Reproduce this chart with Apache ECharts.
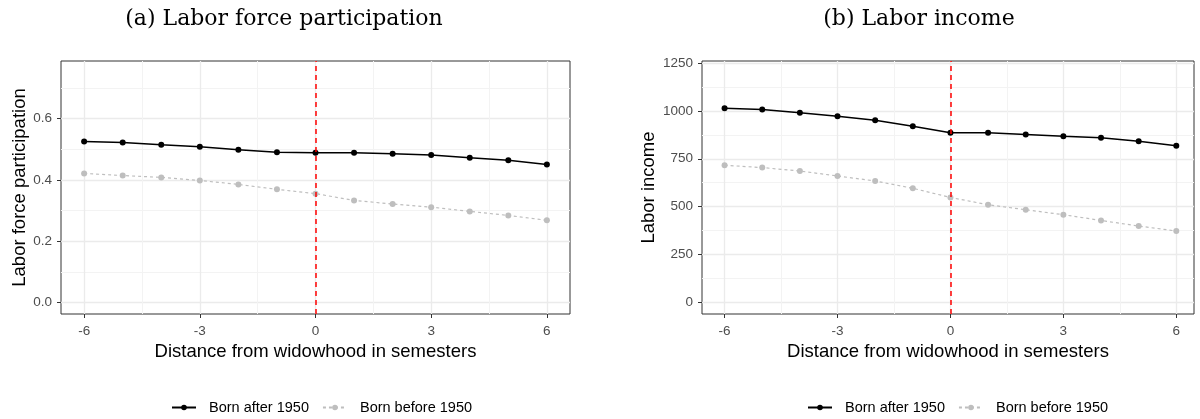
<!DOCTYPE html>
<html>
<head>
<meta charset="utf-8">
<script src="https://cdn.jsdelivr.net/npm/echarts@6/dist/echarts.min.js"></script>
<style>html,body{margin:0;padding:0;background:#fff;}#c{width:1200px;height:419px;}</style>
</head>
<body>
<div id="c"></div>
<script>
const semesters = [-6,-5,-4,-3,-2,-1,0,1,2,3,4,5,6];
const lfpAfter  = [0.525,0.522,0.514,0.508,0.498,0.490,0.488,0.488,0.485,0.481,0.472,0.464,0.450];
const lfpBefore = [0.421,0.414,0.408,0.398,0.385,0.369,0.355,0.333,0.321,0.311,0.297,0.284,0.268];
const incAfter  = [1014,1007,990,972,951,920,886,886,877,868,860,841,818];
const incBefore = [716,704,686,660,634,596,548,510,484,458,428,399,373];
const xTicks = [-6,-3,0,3,6];
const xMinor = [-4.5,-1.5,1.5,4.5];
const lfpTicks = [0,0.2,0.4,0.6];
const lfpMinor = [0.1,0.3,0.5,0.7];
const incTicks = [0,250,500,750,1000,1250];
const incMinor = [125,375,625,875,1125];
const seriesNames = ['Born after 1950','Born before 1950'];
const panelTitles = ['(a) Labor force participation','(b) Labor income'];
const yNames = ['Labor force participation','Labor income'];
const xName = 'Distance from widowhood in semesters';

const pairs = (ys) => semesters.map((x,i)=>[x, ys[i]]);
const tickColor = '#333333';
const labelColor = '#4d4d4d';
const SANS = '"Liberation Sans", Arial, sans-serif';

function majorX(grid, min, max) {
  return {
    type:'value', gridIndex:grid, min:min, max:max, position:'bottom',
    axisLine:{show:false, onZero:false},
    axisTick:{show:true, customValues:xTicks, length:4, lineStyle:{color:tickColor,width:1}},
    axisLabel:{show:true, customValues:xTicks, color:labelColor, fontSize:13.5, fontFamily:SANS, margin:10},
    splitLine:{show:true, lineStyle:{color:'#ebebeb', width:1.3}},
    name:xName, nameLocation:'middle', nameGap:28,
    nameTextStyle:{color:'#000', fontSize:18.5, fontFamily:SANS}
  };
}
function minorAxis(grid, min, max, vals, pos) {
  return {
    type:'value', gridIndex:grid, min:min, max:max, position:pos,
    axisLine:{show:false, onZero:false},
    axisTick:{show:false, customValues:vals},
    axisLabel:{show:false, customValues:vals},
    splitLine:{show:true, lineStyle:{color:'#f3f3f3', width:1}}
  };
}
function majorY(grid, min, max, vals, fmt, name, gap) {
  return {
    type:'value', gridIndex:grid, min:min, max:max, position:'left',
    axisLine:{show:false, onZero:false},
    axisTick:{show:true, customValues:vals, length:4, lineStyle:{color:tickColor,width:1}},
    axisLabel:{show:true, customValues:vals, color:labelColor, fontSize:13.5, fontFamily:SANS, margin:9, formatter:fmt},
    splitLine:{show:true, lineStyle:{color:'#ebebeb', width:1.3}},
    name:name, nameLocation:'middle', nameGap:gap, nameRotate:90,
    nameTextStyle:{color:'#000', fontSize:18.5, fontFamily:SANS}
  };
}
function lineSeries(name, data, xi, yi, after, withMark) {
  const s = {
    name:name, type:'line', xAxisIndex:xi, yAxisIndex:yi, data:data,
    symbol:'circle', symbolSize:6, z: after ? 3 : 2,
    itemStyle:{color: after ? '#000000' : '#bebebe'},
    lineStyle:{color: after ? '#000000' : '#bebebe', width: after ? 1.5 : 1.2, type: after ? 'solid' : [3,3]},
    emphasis:{disabled:true}, animation:false
  };
  if (withMark) {
    s.markLine = {
      silent:true, symbol:['none','none'], label:{show:false}, animation:false,
      lineStyle:{color:'#ff0000', width:1.5, type:[5,4]},
      data:[{xAxis:0}]
    };
  }
  return s;
}

const chart = echarts.init(document.getElementById('c'), null, {renderer:'canvas'});
chart.setOption({
  backgroundColor:'#ffffff',
  animation:false,
  graphic:[
    {type:'text', x:284, y:19, style:{text:panelTitles[0], fontSize:22, fontFamily:'"DejaVu Serif", serif', fill:'#000', align:'center', verticalAlign:'middle'}},
    {type:'text', x:919, y:19, style:{text:panelTitles[1], fontSize:22, fontFamily:'"DejaVu Serif", serif', fill:'#000', align:'center', verticalAlign:'middle'}}
  ],
  grid:[
    {left:61, top:61, width:509, height:253, show:true, borderColor:'#333333', borderWidth:1, backgroundColor:'transparent'},
    {left:702, top:61, width:492, height:253, show:true, borderColor:'#333333', borderWidth:1, backgroundColor:'transparent'}
  ],
  xAxis:[
    majorX(0, -6.6, 6.6),
    minorAxis(0, -6.6, 6.6, xMinor, 'bottom'),
    majorX(1, -6.6, 6.47),
    minorAxis(1, -6.6, 6.47, xMinor, 'bottom')
  ],
  yAxis:[
    majorY(0, -0.0375, 0.7875, lfpTicks, v => Number(v).toFixed(1), yNames[0], 32),
    minorAxis(0, -0.0375, 0.7875, lfpMinor, 'left'),
    majorY(1, -60, 1260, incTicks, v => String(Math.round(v)), yNames[1], 44),
    minorAxis(1, -60, 1260, incMinor, 'left')
  ],
  legend:[
    {left:166, top:395, orient:'horizontal', itemWidth:24, itemHeight:7, itemGap:13, data:seriesNames,
     selectedMode:false, textStyle:{fontSize:14.5, fontFamily:SANS, color:'#000', padding:[0,0,0,8]}},
    {left:802, top:395, orient:'horizontal', itemWidth:24, itemHeight:7, itemGap:13, data:seriesNames,
     selectedMode:false, textStyle:{fontSize:14.5, fontFamily:SANS, color:'#000', padding:[0,0,0,8]}}
  ],
  series:[
    lineSeries(seriesNames[1], pairs(lfpBefore), 0, 0, false, false),
    lineSeries(seriesNames[0], pairs(lfpAfter), 0, 0, true, true),
    lineSeries(seriesNames[1], pairs(incBefore), 2, 2, false, false),
    lineSeries(seriesNames[0], pairs(incAfter), 2, 2, true, true)
  ]
});
</script>
</body>
</html>
